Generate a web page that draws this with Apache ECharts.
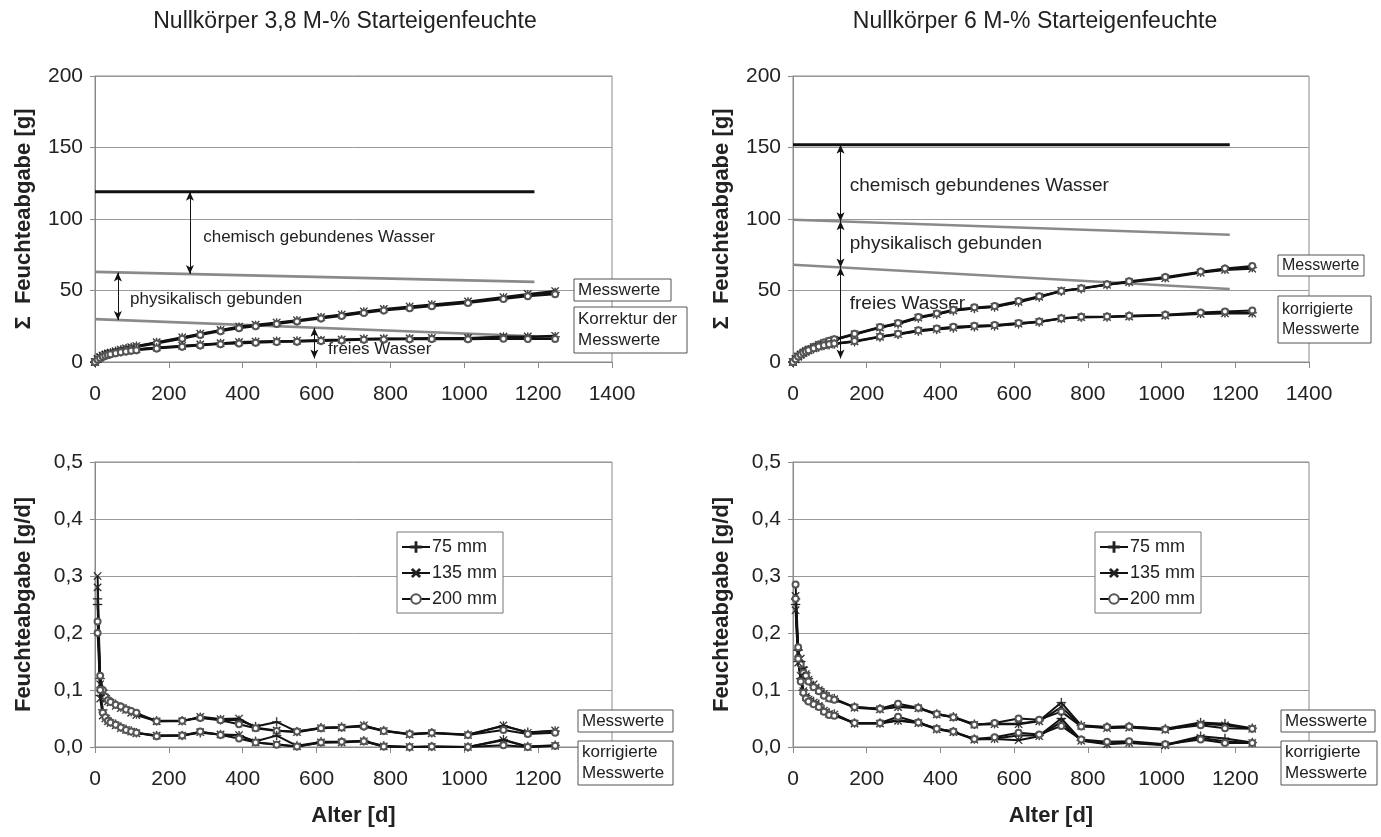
<!DOCTYPE html>
<html>
<head>
<meta charset="utf-8">
<script src="https://cdn.jsdelivr.net/npm/echarts@6/dist/echarts.min.js"></script>
<style>html,body{margin:0;padding:0;background:#fff}#c{width:1381px;height:837px}</style>
</head>
<body>
<div id="c"></div>
<script>
// ---------- DATA ----------
const titles = ['Nullkörper 3,8 M-% Starteigenfeuchte', 'Nullkörper 6 M-% Starteigenfeuchte'];
const depthNames = ['75 mm', '135 mm', '200 mm'];
const xTicks = [0, 200, 400, 600, 800, 1000, 1200, 1400];

const daysCum  = [0, 7, 14, 21, 28, 35, 42, 56, 70, 84, 98, 112, 167, 236, 285, 340, 390, 435, 492, 547, 612, 668, 728, 782, 852, 912, 1010, 1106, 1172, 1246];
const daysRate = [7, 14, 21, 28, 35, 42, 56, 70, 84, 98, 112, 167, 236, 285, 340, 390, 435, 492, 547, 612, 668, 728, 782, 852, 912, 1010, 1106, 1172, 1246];

// top-left: cumulative [g], 3,8 M-%
const tlMess75  = [0, 1.9, 3.2, 4.3, 5.1, 5.8, 6.4, 7.5, 8.5, 9.4, 10.2, 11.0, 13.6, 16.9, 19.4, 22.0, 24.3, 25.6, 27.3, 28.9, 31.0, 32.8, 35.0, 36.6, 38.3, 39.8, 42.0, 44.7, 46.9, 48.6];
const tlMess135 = [0, 2.1, 3.4, 4.5, 5.3, 6.0, 6.6, 7.7, 8.7, 9.6, 10.4, 11.2, 13.9, 17.3, 19.8, 22.4, 24.8, 26.1, 27.6, 29.2, 31.4, 33.2, 35.4, 37.1, 38.8, 40.2, 42.4, 45.4, 47.6, 49.6];
const tlMess200 = [0, 1.6, 2.8, 3.8, 4.6, 5.3, 5.9, 7.0, 8.0, 8.9, 9.7, 10.4, 13.0, 16.3, 18.9, 21.5, 23.6, 25.0, 26.6, 28.3, 30.4, 32.2, 34.3, 36.0, 37.6, 39.0, 41.2, 44.0, 46.0, 47.3];
const tlKorr75  = [0, 1.8, 3.0, 4.0, 4.7, 5.3, 5.8, 6.6, 7.2, 7.8, 8.3, 8.7, 9.9, 11.0, 12.0, 13.0, 13.6, 14.0, 14.5, 14.6, 15.0, 15.4, 16.0, 16.2, 16.3, 16.5, 16.5, 17.4, 17.4, 17.6];
const tlKorr135 = [0, 2.0, 3.2, 4.2, 4.9, 5.5, 6.0, 6.8, 7.4, 8.0, 8.5, 8.9, 10.1, 11.3, 12.3, 13.2, 13.9, 14.3, 14.7, 14.9, 15.3, 15.7, 16.3, 16.5, 16.6, 16.8, 16.8, 17.8, 17.9, 18.3];
const tlKorr200 = [0, 1.5, 2.6, 3.6, 4.3, 4.9, 5.4, 6.2, 6.8, 7.4, 7.9, 8.3, 9.5, 10.6, 11.6, 12.5, 13.0, 13.5, 14.0, 14.2, 14.6, 15.0, 15.5, 15.8, 15.9, 16.0, 15.9, 16.3, 16.0, 16.0];
const tlChem = [[0, 119], [1190, 119]];
const tlPhys = [[0, 63], [1190, 56]];
const tlFrei = [[0, 30], [1190, 18]];

// top-right: cumulative [g], 6 M-%
const trMess75  = [0, 1.9, 3.7, 5.1, 6.4, 7.5, 8.5, 10.2, 11.8, 13.1, 14.3, 15.4, 19.2, 23.9, 26.6, 30.8, 33.2, 35.8, 37.4, 38.4, 41.8, 45.3, 49.4, 51.2, 54.0, 56.0, 59.0, 62.8, 64.9, 66.0];
const trMess135 = [0, 2.0, 3.9, 5.3, 6.6, 7.7, 8.7, 10.4, 12.0, 13.3, 14.5, 15.6, 19.4, 24.1, 26.8, 31.0, 33.4, 36.0, 37.6, 38.6, 42.0, 45.6, 49.8, 51.4, 54.0, 55.8, 58.6, 62.4, 64.4, 65.2];
const trMess200 = [0, 2.1, 4.1, 5.5, 6.8, 7.9, 8.9, 10.6, 12.2, 13.6, 14.8, 15.9, 19.8, 24.5, 27.3, 31.5, 34.0, 36.5, 38.2, 39.2, 42.6, 46.0, 49.6, 51.5, 54.4, 56.4, 59.4, 63.2, 65.4, 67.2];
const trKorr75  = [0, 1.8, 3.5, 4.8, 6.0, 7.0, 7.9, 9.3, 10.5, 11.5, 12.1, 12.6, 14.2, 17.4, 19.2, 21.5, 22.7, 23.8, 24.6, 25.1, 26.6, 27.9, 30.4, 31.3, 31.5, 32.1, 32.8, 33.9, 34.4, 34.4];
const trKorr135 = [0, 1.9, 3.7, 5.0, 6.2, 7.2, 8.1, 9.5, 10.7, 11.6, 12.2, 12.8, 14.4, 17.6, 19.4, 21.7, 22.9, 24.0, 24.8, 25.3, 26.8, 28.0, 30.4, 31.3, 31.4, 31.8, 32.5, 33.6, 34.0, 34.0];
const trKorr200 = [0, 2.0, 3.9, 5.2, 6.4, 7.4, 8.3, 9.7, 10.9, 11.8, 12.4, 13.0, 14.7, 17.9, 19.8, 22.2, 23.4, 24.6, 25.3, 25.8, 27.3, 28.4, 30.6, 31.6, 31.8, 32.3, 33.1, 34.6, 35.4, 36.0];
const trChem = [[0, 152], [1185, 152]];
const trPhys = [[0, 99.5], [1185, 89]];
const trFrei = [[0, 68], [1185, 51]];

// bottom-left: rate [g/d], 3,8 M-%
const blMess75  = [0.26, 0.12, 0.10, 0.09, 0.085, 0.08, 0.075, 0.07, 0.067, 0.062, 0.058, 0.046, 0.046, 0.052, 0.048, 0.047, 0.036, 0.044, 0.027, 0.034, 0.035, 0.037, 0.029, 0.023, 0.025, 0.022, 0.037, 0.026, 0.028];
const blMess135 = [0.30, 0.11, 0.095, 0.085, 0.08, 0.078, 0.072, 0.068, 0.065, 0.06, 0.056, 0.045, 0.045, 0.053, 0.049, 0.05, 0.034, 0.029, 0.026, 0.033, 0.034, 0.038, 0.028, 0.022, 0.024, 0.021, 0.038, 0.025, 0.029];
const blMess200 = [0.22, 0.125, 0.10, 0.088, 0.082, 0.079, 0.074, 0.071, 0.066, 0.063, 0.06, 0.045, 0.046, 0.051, 0.047, 0.04, 0.033, 0.028, 0.027, 0.033, 0.034, 0.036, 0.028, 0.023, 0.025, 0.021, 0.03, 0.023, 0.025];
const blKorr75  = [0.25, 0.09, 0.065, 0.055, 0.048, 0.044, 0.04, 0.035, 0.031, 0.028, 0.025, 0.02, 0.02, 0.025, 0.022, 0.02, 0.01, 0.02, 0.002, 0.009, 0.009, 0.011, 0.002, 0.0, 0.001, 0.0, 0.013, 0.001, 0.003];
const blKorr135 = [0.28, 0.085, 0.055, 0.05, 0.045, 0.042, 0.038, 0.033, 0.03, 0.027, 0.024, 0.02, 0.02, 0.026, 0.022, 0.021, 0.008, 0.005, 0.001, 0.008, 0.008, 0.01, 0.001, 0.0, 0.0, 0.0, 0.012, 0.0, 0.002];
const blKorr200 = [0.2, 0.1, 0.06, 0.052, 0.046, 0.043, 0.039, 0.034, 0.03, 0.027, 0.025, 0.019, 0.02, 0.027, 0.021, 0.015, 0.008, 0.004, 0.001, 0.008, 0.009, 0.01, 0.001, 0.0, 0.001, 0.0, 0.003, 0.0, 0.002];

// bottom-right: rate [g/d], 6 M-%
const brMess75  = [0.26, 0.17, 0.15, 0.14, 0.13, 0.12, 0.108, 0.103, 0.095, 0.088, 0.085, 0.07, 0.067, 0.071, 0.069, 0.058, 0.053, 0.04, 0.041, 0.041, 0.046, 0.078, 0.038, 0.035, 0.036, 0.032, 0.043, 0.041, 0.033];
const brMess135 = [0.265, 0.165, 0.155, 0.135, 0.128, 0.118, 0.11, 0.1, 0.093, 0.086, 0.084, 0.069, 0.066, 0.07, 0.068, 0.057, 0.052, 0.039, 0.04, 0.04, 0.045, 0.07, 0.037, 0.033, 0.034, 0.03, 0.041, 0.038, 0.032];
const brMess200 = [0.285, 0.175, 0.145, 0.13, 0.125, 0.115, 0.105, 0.098, 0.09, 0.085, 0.083, 0.07, 0.067, 0.076, 0.069, 0.058, 0.052, 0.039, 0.042, 0.05, 0.048, 0.062, 0.036, 0.035, 0.036, 0.031, 0.038, 0.033, 0.032];
const brKorr75  = [0.25, 0.15, 0.12, 0.1, 0.09, 0.085, 0.08, 0.075, 0.066, 0.06, 0.058, 0.042, 0.042, 0.047, 0.043, 0.032, 0.027, 0.014, 0.015, 0.02, 0.02, 0.05, 0.012, 0.006, 0.008, 0.004, 0.019, 0.015, 0.008];
const brKorr135 = [0.24, 0.148, 0.125, 0.098, 0.088, 0.083, 0.078, 0.072, 0.064, 0.058, 0.057, 0.041, 0.041, 0.046, 0.042, 0.031, 0.026, 0.013, 0.014, 0.012, 0.019, 0.044, 0.011, 0.005, 0.007, 0.003, 0.016, 0.01, 0.007];
const brKorr200 = [0.26, 0.155, 0.115, 0.095, 0.085, 0.08, 0.075, 0.07, 0.062, 0.056, 0.055, 0.042, 0.042, 0.053, 0.043, 0.032, 0.027, 0.014, 0.017, 0.025, 0.022, 0.037, 0.013, 0.009, 0.01, 0.005, 0.013, 0.007, 0.007];

// ---------- CHART ----------
const FONT = '"Liberation Sans", Arial, sans-serif';
const TXT = '#222';
const GRAY = '#8a8a8a';
const chart = echarts.init(document.getElementById('c'), null, {renderer: 'canvas'});

const symPlus = 'path://M0,4.55H10V5.45H0ZM4.55,0H5.45V10H4.55Z';
const symbols = [
  {symbol: symPlus, symbolSize: 9, symbolRotate: 0},
  {symbol: symPlus, symbolSize: 10, symbolRotate: 45},
  {symbol: 'emptyCircle', symbolSize: 6, symbolRotate: 0}
];
const zip = (xs, ys) => xs.map((x, i) => [x, ys[i]]);

function dataSeries(idx, xs, ysList) {
  return ysList.map((ys, k) => {
    const s = symbols[k % 3];
    const circ = s.symbol === 'emptyCircle';
    return {
      name: depthNames[k % 3],
      type: 'line',
      xAxisIndex: idx, yAxisIndex: idx,
      data: zip(xs, ys),
      symbol: s.symbol, symbolSize: s.symbolSize, symbolRotate: s.symbolRotate,
      showSymbol: true,
      lineStyle: {color: '#111', width: 2},
      itemStyle: circ ? {color: '#555', borderColor: '#555', borderWidth: 0.9}
                      : {color: '#222', borderColor: '#222', borderWidth: 0.4},
      z: 5,
      silent: true
    };
  });
}

function refSeries(idx, pts, color, width) {
  return {type: 'line', xAxisIndex: idx, yAxisIndex: idx, data: pts, symbol: 'none',
    lineStyle: {color: color, width: width}, silent: true, z: 3};
}

function arrowMark(segments) {
  return {
    silent: true, symbol: ['arrow', 'arrow'], symbolSize: [6, 9],
    lineStyle: {color: '#111', width: 1, type: 'solid'},
    label: {show: false},
    data: segments.map(s => [{coord: [s[0], s[1]]}, {coord: [s[0], s[2]]}])
  };
}

function textMark(items, size) {
  return {
    silent: true, symbol: 'circle', symbolSize: 0,
    label: {show: true, position: 'right', distance: 0, formatter: p => p.name,
      fontFamily: FONT, fontSize: size, color: TXT},
    data: items.map(t => ({name: t[0], coord: [t[1], t[2]]}))
  };
}

const grids = [
  {left: 95, top: 76, width: 517, height: 286},
  {left: 793, top: 76, width: 516, height: 286},
  {left: 95, top: 462, width: 517, height: 285},
  {left: 793, top: 462, width: 516, height: 285}
].map(g => Object.assign(g, {show: true, borderColor: GRAY, borderWidth: 1, backgroundColor: '#fff'}));

const xAxes = [0, 1, 2, 3].map(i => ({
  type: 'value', gridIndex: i, min: xTicks[0], max: xTicks[xTicks.length - 1], interval: 200,
  axisLine: {show: true, lineStyle: {color: GRAY, width: 1}},
  axisTick: {show: true, length: 6, lineStyle: {color: GRAY}},
  splitLine: {show: false},
  axisLabel: {fontFamily: FONT, fontSize: 21, color: TXT, margin: 22,
    formatter: v => (i >= 2 && v === 1400) ? '' : String(v)},
  name: i >= 2 ? 'Alter [d]' : '',
  nameLocation: 'middle', nameGap: 58,
  nameTextStyle: {fontFamily: FONT, fontSize: 22, fontWeight: 'bold', color: TXT}
}));

const yAxes = [0, 1, 2, 3].map(i => ({
  type: 'value', gridIndex: i,
  min: 0, max: i < 2 ? 200 : 0.5, interval: i < 2 ? 50 : 0.1,
  axisLine: {show: true, lineStyle: {color: GRAY, width: 1}},
  axisTick: {show: true, length: 5, lineStyle: {color: GRAY}},
  splitLine: {show: true, lineStyle: {color: '#9a9a9a', width: 1}},
  axisLabel: {fontFamily: FONT, fontSize: 21, color: TXT, margin: 12,
    formatter: v => i < 2 ? String(v) : v.toFixed(1).replace('.', ',')},
  name: i < 2 ? 'Σ  Feuchteabgabe [g]' : 'Feuchteabgabe [g/d]',
  nameLocation: 'middle', nameGap: 60, nameRotate: 90,
  nameTextStyle: {fontFamily: FONT, fontSize: 22, fontWeight: 'bold', color: TXT}
}));

const series = [];
// reference lines + arrows + texts, top-left
const tlChemS = refSeries(0, tlChem, '#111', 3);
tlChemS.markLine = arrowMark([[257, 119, 61.5], [62, 62.6, 29.4], [594, 24, 2.5]]);
tlChemS.markPoint = textMark([['chemisch gebundenes Wasser', 293, 87], ['physikalisch gebunden', 95, 43.5], ['freies Wasser', 631, 9]], 17);
series.push(tlChemS, refSeries(0, tlPhys, GRAY, 2.6), refSeries(0, tlFrei, GRAY, 2.6));
// top-right
const trChemS = refSeries(1, trChem, '#111', 3);
trChemS.markLine = arrowMark([[129, 152, 98.4], [129, 98.4, 66.1], [129, 66.1, 2.5]]);
trChemS.markPoint = textMark([['chemisch gebundenes Wasser', 154, 123], ['physikalisch gebunden', 154, 82.5], ['freies Wasser', 154, 41]], 19);
series.push(trChemS, refSeries(1, trPhys, GRAY, 2.6), refSeries(1, trFrei, GRAY, 2.6));

series.push(...dataSeries(0, daysCum, [tlMess75, tlMess135, tlMess200, tlKorr75, tlKorr135, tlKorr200]));
series.push(...dataSeries(1, daysCum, [trMess75, trMess135, trMess200, trKorr75, trKorr135, trKorr200]));
series.push(...dataSeries(2, daysRate, [blMess75, blMess135, blMess200, blKorr75, blKorr135, blKorr200]));
series.push(...dataSeries(3, daysRate, [brMess75, brMess135, brMess200, brKorr75, brKorr135, brKorr200]));

const legendBase = {
  data: depthNames, orient: 'vertical', selectedMode: false,
  backgroundColor: '#fff', borderColor: '#777', borderWidth: 1, borderRadius: 0,
  padding: [6, 6, 5, 4], itemGap: 8, itemWidth: 28, itemHeight: 12,
  textStyle: {fontFamily: FONT, fontSize: 18, color: TXT, padding: [0, 0, 0, -3]}
};
const legends = [
  Object.assign({}, legendBase, {left: 397, top: 532}),
  Object.assign({}, legendBase, {left: 1095, top: 532})
];

function box(x, y, w, h, text, size) {
  return [
    {type: 'rect', shape: {x: x, y: y, width: w, height: h}, style: {fill: '#fff', stroke: '#555', lineWidth: 1}, z: 100, silent: true},
    {type: 'text', x: x + 4, y: y + h / 2, z: 101, silent: true,
      style: {text: text, font: size + 'px ' + FONT, fill: TXT, verticalAlign: 'middle', textVerticalAlign: 'middle', lineHeight: size + 4}}
  ];
}
const graphic = [].concat(
  box(574, 279, 97, 22, 'Messwerte', 17),
  box(574, 307, 113, 46, 'Korrektur der\nMesswerte', 17),
  box(1278, 255, 86, 21, 'Messwerte', 16),
  box(1278, 296, 93, 47, 'korrigierte\nMesswerte', 16),
  box(578, 710, 95, 22, 'Messwerte', 17),
  box(578, 741, 95, 44, 'korrigierte\nMesswerte', 17),
  box(1281, 710, 94, 22, 'Messwerte', 17),
  box(1281, 741, 96, 44, 'korrigierte\nMesswerte', 17)
);

chart.setOption({
  animation: false,
  backgroundColor: '#fff',
  title: [
    {text: titles[0], left: 340, top: 5, textAlign: 'center', textStyle: {fontFamily: FONT, fontSize: 23, fontWeight: 'normal', color: TXT}},
    {text: titles[1], left: 1030, top: 5, textAlign: 'center', textStyle: {fontFamily: FONT, fontSize: 23, fontWeight: 'normal', color: TXT}}
  ],
  grid: grids,
  xAxis: xAxes,
  yAxis: yAxes,
  legend: legends,
  series: series,
  graphic: graphic
});
</script>
</body>
</html>
